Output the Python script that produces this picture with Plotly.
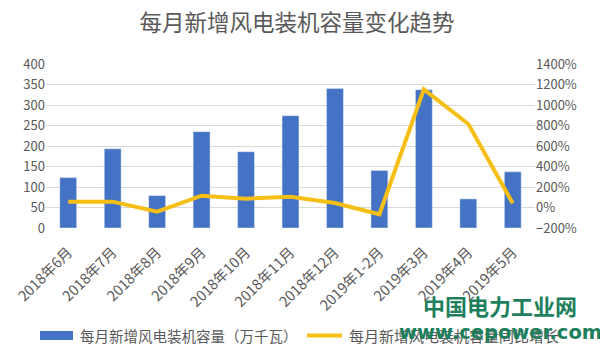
import plotly.graph_objects as go

categories = ["2018年6月", "2018年7月", "2018年8月", "2018年9月", "2018年10月", "2018年11月",
              "2018年12月", "2019年1-2月", "2019年3月", "2019年4月", "2019年5月"]
capacity = [123, 193, 79, 235, 186, 274, 340, 140, 337, 71, 137]
yoy_growth = [57, 57, -41, 115, 86, 105, 44, -66, 1153, 815, 41]

bar_name = "每月新增风电装机容量（万千瓦）"
line_name = "每月新增风电装机容量同比增长"
title_text = "每月新增风电装机容量变化趋势"

FONT = "Microsoft YaHei, Noto Sans CJK SC, sans-serif"
GRAY = "#595959"
BLUE = "#4472C4"
GOLD = "#F6BF16"

fig = go.Figure()
fig.add_trace(go.Bar(x=categories, y=capacity, name=bar_name, marker_color=BLUE,
                     width=0.38, showlegend=False))
fig.add_trace(go.Scatter(x=categories, y=yoy_growth, name=line_name, yaxis="y2",
                         mode="lines", line=dict(color=GOLD, width=4), showlegend=False))

fig.update_layout(
    width=600, height=361,
    margin=dict(l=46, r=65, t=64, b=133),
    paper_bgcolor="white", plot_bgcolor="white",
    font=dict(family=FONT, color=GRAY, size=13),
    title=dict(text=title_text, x=0.495, xanchor="center", y=0.935, yanchor="middle",
               font=dict(size=22.5, color=GRAY, family=FONT)),
    xaxis=dict(tickangle=-45, tickfont=dict(size=14.5, color=GRAY), showgrid=False,
               showline=False, ticks="", ticklabelstandoff=12),
    yaxis=dict(range=[0, 400], dtick=50, gridcolor="#D9D9D9", gridwidth=1, zeroline=False,
               tickfont=dict(size=13, color=GRAY), ticks="", showline=False),
    yaxis2=dict(range=[-200, 1400], dtick=200, overlaying="y", side="right", showgrid=False,
                zeroline=False, ticksuffix="%", tickfont=dict(size=13, color=GRAY)),
    bargap=0.5,
    shapes=[
        dict(type="rect", xref="paper", yref="paper",
             x0=(40 - 46) / 489, x1=(73 - 46) / 489,
             y0=(228 - 340) / 164, y1=(228 - 331) / 164,
             fillcolor=BLUE, line=dict(width=0)),
        dict(type="line", xref="paper", yref="paper",
             x0=(307 - 46) / 489, x1=(342 - 46) / 489,
             y0=(228 - 335.5) / 164, y1=(228 - 335.5) / 164,
             line=dict(color=GOLD, width=4)),
    ],
    annotations=[
        dict(text=bar_name, xref="paper", yref="paper", x=(78 - 46) / 489, y=(228 - 335.5) / 164,
             xanchor="left", yanchor="middle", showarrow=False,
             font=dict(size=14.5, color=GRAY, family=FONT)),
        dict(text=line_name, xref="paper", yref="paper", x=(347 - 46) / 489, y=(228 - 335.5) / 164,
             xanchor="left", yanchor="middle", showarrow=False,
             font=dict(size=15, color=GRAY, family=FONT)),
        dict(text="<b>中国电力工业网</b>", xref="paper", yref="paper", x=(500 - 46) / 489,
             y=(228 - 305) / 164, xanchor="center", yanchor="middle", showarrow=False,
             font=dict(size=22, color="#1E7F5C", family=FONT)),
        dict(text="<b>www.cepower.com</b>", xref="paper", yref="paper", x=(500 - 46) / 489,
             y=(228 - 332) / 164, xanchor="center", yanchor="middle", showarrow=False,
             font=dict(size=19.5, color="#1E7F5C", family="DejaVu Sans, sans-serif")),
    ],
)

fig.write_html("out.html", config={"displayModeBar": False},
               post_script="document.body.style.margin='0';document.body.style.overflow='hidden';")
